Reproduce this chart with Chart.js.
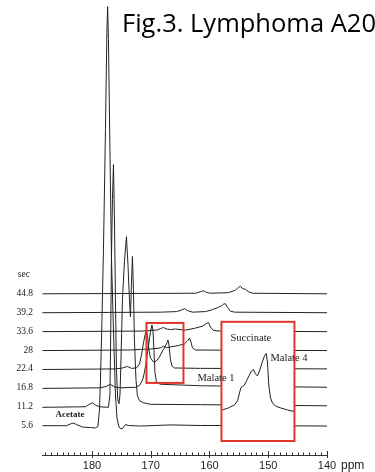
<!DOCTYPE html>
<html>
<head>
<meta charset="utf-8">
<script src="https://cdn.jsdelivr.net/npm/chart.js@4.4.1/dist/chart.umd.min.js"></script>
<style>
  html, body { margin: 0; padding: 0; background: #fff; }
  canvas { display: block; }
</style>
</head>
<body>
<canvas id="nmr" width="375" height="472"></canvas>
<script>
// acquisition times (sec) of the stacked spectra, bottom to top
const times = ['5.6', '11.2', '16.8', '22.4', '28', '33.6', '39.2', '44.8'];
const xTicks = [180, 170, 160, 150, 140];

// each trace: [ppm, intensity above its own baseline]
const trace5_6 = [[188.43, 0], [185.36, 0], [184.34, 0], [183.66, 0.09], [183.15, 0.14], [182.64, 0.06], [181.62, -0.07],
  [180.26, -0.1], [179.4, -0.12], [178.98, -0.04], [178.72, 0.83], [178.55, 2.42], [178.3, 5.59], [178.04, 9.3],
  [177.7, 15.65], [177.45, 20.94], [177.33, 22.15], [177.19, 20.41], [176.94, 14.59], [176.68, 8.87], [176.34, 5.06],
  [176.0, 1.62], [175.74, 0.41], [175.4, -0.07], [175.06, -0.17], [174.72, -0.12], [174.3, 0.06], [173.79, 0.01],
  [171.74, -0.02], [166.64, 0.04], [161.53, 0.01], [153.02, 0.01], [139.91, -0.02]];
const trace11_2 = [[188.43, -0.03], [181.11, 0], [180.43, 0.13], [179.91, 0.21], [179.4, 0.08], [178.72, 0], [177.19, -0.03],
  [176.94, 0.63], [176.8, 4.07], [176.68, 7.88], [176.51, 10.95], [176.34, 12.8], [176.17, 9.89], [176.0, 5.66],
  [175.83, 1.96], [175.61, 0.37], [175.4, 0.16], [175.23, 0.63], [175.06, 2.49], [174.81, 5.66], [174.47, 7.67],
  [174.13, 8.99], [173.87, 7.51], [173.62, 5.66], [173.45, 4.76], [173.28, 6.46], [173.11, 7.94], [172.94, 6.19],
  [172.77, 3.54], [172.51, 1.43], [172.26, 0.58], [171.91, 0.32], [171.23, 0.21], [170.04, 0.13], [161.53, 0.11], [139.91, 0.05]];
const trace16_8 = [[188.43, -0.03], [178.55, 0], [177.53, 0.08], [176.85, 0.19], [176.17, 0.05], [175.15, 0], [172.6, 0.03],
  [171.91, 0.13], [171.4, 0.4], [171.06, 0.82], [170.72, 1.46], [170.38, 2.25], [170.04, 2.95], [169.79, 3.32],
  [169.62, 3.04], [169.45, 1.98], [169.28, 0.82], [169.02, 0.29], [168.34, 0.19], [161.53, 0.11], [139.91, 0.03]];
const trace22_4 = [[188.43, -0.03], [176.0, 0], [174.81, 0.05], [173.96, 0.13], [173.28, 0.03], [172.43, 0.05], [171.91, 0.26],
  [171.57, 0.74], [171.23, 1.38], [170.89, 1.9], [170.72, 2.06], [170.55, 1.75], [170.3, 1.01], [170.04, 0.58],
  [169.53, 0.37], [169.02, 0.42], [168.51, 0.63], [168.0, 0.95], [167.66, 1.11], [167.32, 1.32], [167.06, 1.53],
  [166.89, 1.27], [166.64, 0.48], [166.38, 0.16], [165.96, 0.05], [161.53, 0.03], [139.91, 0]];
const trace28 = [[188.43, -0.03], [173.45, 0], [171.74, 0.03], [170.04, 0.05], [168.34, 0.11], [167.8, 0.2], [167.3, 0.12],
  [166.64, 0.16], [165.28, 0.24], [164.26, 0.32], [163.74, 0.48], [163.4, 0.63], [163.15, 0.42], [162.89, 0.11],
  [162.38, 0], [139.91, -0.03]];
const trace33_6 = [[188.43, -0.03], [171.74, 0], [170.04, 0.03], [169.02, 0.05], [168.34, 0.13], [167.83, 0.19], [167.32, 0.11],
  [166.64, 0.08], [165.79, 0.11], [164.09, 0.05], [162.38, 0.16], [161.19, 0.26], [160.51, 0.4], [160.17, 0.45],
  [159.83, 0.21], [159.32, 0.03], [158.13, 0], [139.91, -0.03]];
const trace39_2 = [[188.43, -0.03], [168.34, 0], [165.62, 0.03], [164.77, 0.11], [164.26, 0.19], [163.74, 0.08], [162.89, 0],
  [160.68, 0.03], [159.49, 0.13], [158.47, 0.26], [157.96, 0.34], [157.62, 0.42], [157.28, 0.45], [156.94, 0.26],
  [156.43, 0.05], [155.74, 0], [139.91, -0.03]];
const trace44_8 = [[188.43, -0.03], [162.38, 0], [161.53, 0.08], [161.02, 0.13], [160.51, 0.05], [159.83, 0], [156.77, 0.03],
  [155.57, 0.16], [155.06, 0.32], [154.72, 0.37], [154.38, 0.24], [153.87, 0.21], [153.36, 0.08], [152.68, 0], [139.91, -0.03]];
const traces = [trace5_6, trace11_2, trace16_8, trace22_4, trace28, trace33_6, trace39_2, trace44_8];

// expanded view drawn inside the large box
const inset = [[157.79, 0.83], [156.77, 0.94], [155.74, 1.1], [155.23, 1.31], [154.89, 1.73], [154.64, 2.02], [154.38, 2.07],
  [154.04, 2.15], [153.7, 2.37], [153.28, 2.63], [152.85, 2.89], [152.51, 2.97], [152.17, 2.74], [151.83, 2.63],
  [151.49, 2.89], [151.06, 3.32], [150.64, 3.69], [150.35, 3.82], [150.13, 3.37], [149.91, 2.15], [149.62, 1.47],
  [149.28, 1.2], [148.77, 1.04], [147.91, 0.94], [146.72, 0.83], [145.62, 0.75]];

// boxes: [ppm left, ppm right, top, bottom]
const smallBox = [170.72, 164.43, 5.43, 2.26];
const bigBox = [157.96, 145.54, 5.49, -0.81];

// peak labels: [text, ppm, level, bold]
const peakLabels = [
  ['Acetate', 186.2, 0.57, true],
  ['Succinate', 156.43, 4.64, false],
  ['Malate 4', 149.62, 3.58, false],
  ['Malate 1', 162.04, 2.52, false]
];

const lineColor = '#222';
const boxColor = '#e2352b';

const datasets = traces.map((tr, i) => ({
  label: times[i],
  data: tr.map(([p, v]) => ({ x: p, y: v + i })),
  borderColor: lineColor,
  borderWidth: 1,
  pointRadius: 0,
  tension: 0,
  order: 1
}));
const INSET = datasets.length;
datasets.push({
  label: 'inset',
  data: inset.map(([p, v]) => ({ x: p, y: v })),
  borderColor: lineColor,
  borderWidth: 1,
  pointRadius: 0,
  tension: 0,
  order: -1
});

const boxRect = (sc, b) => {
  const x1 = sc.x.getPixelForValue(b[0]);
  const x2 = sc.x.getPixelForValue(b[1]);
  const y1 = sc.y.getPixelForValue(b[2]);
  const y2 = sc.y.getPixelForValue(b[3]);
  return [x1, y1, x2 - x1, y2 - y1];
};

const decorations = {
  id: 'decorations',
  beforeDatasetDraw(chart, args) {
    if (args.index !== INSET) return;
    const ctx = chart.ctx;
    ctx.save();
    ctx.fillStyle = '#fff';
    ctx.fillRect(...boxRect(chart.scales, bigBox));
    ctx.restore();
  },
  afterDatasetsDraw(chart) {
    const { ctx, chartArea, scales } = chart;
    const x = scales.x, y = scales.y;
    ctx.save();

    // red boxes
    ctx.strokeStyle = boxColor;
    ctx.lineWidth = 2;
    ctx.strokeRect(...boxRect(scales, smallBox));
    ctx.strokeRect(...boxRect(scales, bigBox));

    // peak labels
    ctx.fillStyle = '#222';
    ctx.textBaseline = 'middle';
    ctx.textAlign = 'left';
    peakLabels.forEach(([t, p, v, bold]) => {
      ctx.font = bold ? 'bold 9px "Liberation Serif"' : '10.5px "Liberation Serif"';
      ctx.fillText(t, x.getPixelForValue(p), y.getPixelForValue(v));
    });

    // time labels on the left
    ctx.font = '9.5px "Liberation Serif"';
    ctx.textAlign = 'right';
    times.forEach((t, i) => {
      ctx.fillText(t, chartArea.left - 9, y.getPixelForValue(i));
    });
    ctx.fillText('sec', chartArea.left - 12, y.getPixelForValue(times.length));

    // axis ticks (pointing up)
    const base = chartArea.bottom;
    ctx.strokeStyle = '#333';
    ctx.lineWidth = 1;
    for (let p = 188; p >= 140; p--) {
      const px = Math.round(x.getPixelForValue(p)) + 0.5;
      const major = p % 10 === 0;
      ctx.beginPath();
      ctx.moveTo(px, base - (major ? 4 : 2.5));
      ctx.lineTo(px, base + (major ? 3 : 0));
      ctx.stroke();
    }

    // unit
    ctx.font = '12px "Liberation Sans"';
    ctx.textAlign = 'left';
    ctx.fillStyle = '#222';
    ctx.fillText('ppm', x.getPixelForValue(140) + 14, base + 10.5);

    // title
    ctx.font = '25.5px "Open Sans"';
    ctx.fillStyle = '#000';
    ctx.textBaseline = 'alphabetic';
    ctx.fillText('Fig.3. Lymphoma A20', 122, 32);
    ctx.restore();
  }
};

new Chart(document.getElementById('nmr'), {
  type: 'line',
  data: { datasets },
  options: {
    responsive: false,
    devicePixelRatio: 1,
    animation: false,
    layout: { padding: { left: 42, right: 48, top: 0, bottom: 0 } },
    plugins: { legend: { display: false }, tooltip: { enabled: false } },
    scales: {
      x: {
        type: 'linear',
        reverse: true,
        min: 140,
        max: 188.5,
        afterBuildTicks: (axis) => { axis.ticks = xTicks.map(v => ({ value: v })); },
        afterFit: (axis) => { axis.height = 17; },
        ticks: {
          autoSkip: false,
          maxRotation: 0,
          padding: 4,
          color: '#222',
          font: { family: 'Liberation Sans', size: 11 },
          callback: v => String(v)
        },
        grid: { display: false, drawTicks: false },
        border: { display: true, color: '#333', width: 1 }
      },
      y: {
        type: 'linear',
        display: false,
        min: -1.55,
        max: 22.5
      }
    }
  },
  plugins: [decorations]
});
</script>
</body>
</html>
